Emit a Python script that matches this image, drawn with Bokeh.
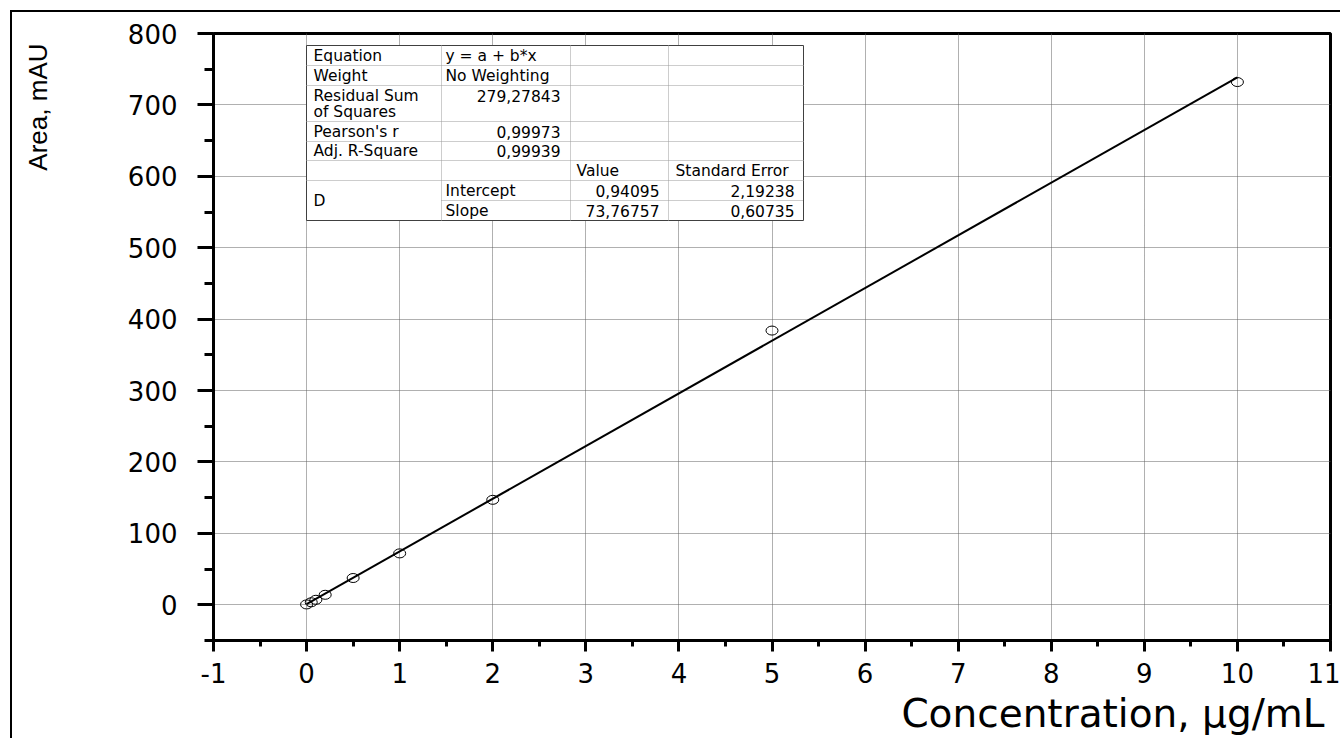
from bokeh.plotting import figure
from bokeh.models import FixedTicker, Range1d, Title
from bokeh.core.properties import value
from bokeh.embed import file_html
from bokeh.resources import INLINE

# ---------------- data ----------------
conc = [0, 0.05, 0.1, 0.2, 0.5, 1, 2, 5, 10]
area = [0.5, 3.5, 7.0, 14.0, 37.5, 72.0, 147.0, 384.0, 732.0]

fit_intercept = 0.94095
fit_slope = 73.76757
fit_x = [0, 10]

x_ticks = [-1, 0, 1, 2, 3, 4, 5, 6, 7, 8, 9, 10, 11]
y_ticks = [0, 100, 200, 300, 400, 500, 600, 700, 800]

table_labels = ["Equation", "Weight", "Residual Sum", "of Squares", "Pearson's r", "Adj. R-Square"]
table_values = ["y = a + b*x", "No Weighting"]
table_numbers = ["279,27843", "0,99973", "0,99939"]
param_header = ["Value", "Standard Error"]
param_names = ["Intercept", "Slope"]
param_values = ["0,94095", "73,76757"]
param_errors = ["2,19238", "0,60735"]
group_name = "D"

x_title = "Concentration, \u03bcg/mL"
y_title = "Area, mAU"

# ---------------- geometry ----------------
X0, X1, Y0, Y1 = -1, 11, -50, 800
FL, FR, FT, FB = 213, 1330, 33, 640   # frame bounds in page pixels


def dx(px):
    return X0 + (px - FL) / (FR - FL) * (X1 - X0)


def dy(py):
    return Y0 + (FB - py) / (FB - FT) * (Y1 - Y0)


p = figure(width=1330, height=728, x_range=Range1d(X0, X1), y_range=Range1d(Y0, Y1),
           output_backend="svg", toolbar_location=None,
           min_border_left=201, min_border_right=12, min_border_top=21, min_border_bottom=100)
p.styles = {"border-left": "2px solid black", "border-top": "2px solid black",
            "margin-left": "10px", "margin-top": "10px"}

p.background_fill_color = "white"
p.border_fill_color = "white"
p.outline_line_color = "black"
p.outline_line_width = 3

p.xaxis.ticker = FixedTicker(ticks=x_ticks, minor_ticks=[t + 0.5 for t in x_ticks[:-1]])
p.yaxis.ticker = FixedTicker(ticks=y_ticks, minor_ticks=[t - 50 for t in y_ticks])
p.xaxis.major_label_overrides = {-1: "-1"}

for ax in (p.xaxis[0], p.yaxis[0]):
    ax.axis_line_width = 3
    ax.axis_line_color = "black"
    ax.major_tick_line_width = 3
    ax.minor_tick_line_width = 3
    ax.major_tick_line_color = "black"
    ax.minor_tick_line_color = "black"
    ax.major_tick_in = 0
    ax.minor_tick_in = 0
    ax.major_label_text_font = "DejaVu Sans"
    ax.major_label_text_font_size = "26px"
    ax.major_label_text_color = "black"

p.xaxis.major_tick_out = 11
p.xaxis.minor_tick_out = 6
p.xaxis.major_label_standoff = 11
p.yaxis.major_tick_out = 16
p.yaxis.minor_tick_out = 9
p.yaxis.major_label_standoff = 20
# blank spacer label: keeps the title clear of the tick labels
p.yaxis.axis_label = " "
p.yaxis.axis_label_text_font_size = "10px"
p.yaxis.axis_label_standoff = 58

p.xgrid.ticker = FixedTicker(ticks=x_ticks)
p.ygrid.ticker = FixedTicker(ticks=y_ticks)
for g in (p.xgrid[0], p.ygrid[0]):
    g.grid_line_color = "#606060"
    g.grid_line_dash = "1 1"
    g.grid_line_width = 1

# fit line and points
fit_y = [fit_intercept + fit_slope * v for v in fit_x]
p.line(fit_x, fit_y, line_color="black", line_width=2)
p.ellipse(x=conc, y=area, width=12, height=9, width_units="screen", height_units="screen",
          fill_alpha=0, line_color="black", line_width=1)

# ---------------- results table ----------------
cols = [306, 441, 570, 668, 803]
rows = [45, 65, 85, 121, 141, 160, 180, 200, 220]

p.quad(left=[dx(cols[0])], right=[dx(cols[-1])], top=[dy(rows[0])], bottom=[dy(rows[-1])],
       fill_color="white", line_color="#404040", line_width=1)

hx0, hx1, hy = [], [], []
for r in rows[1:-1]:
    start = cols[1] if r == 200 else cols[0]
    hx0.append(dx(start)); hx1.append(dx(cols[-1])); hy.append(dy(r))
p.segment(x0=hx0, y0=hy, x1=hx1, y1=hy, line_color="#9a9a9a", line_width=1, line_dash="1 1")
vx = [dx(c) for c in cols[1:-1]]
p.segment(x0=vx, y0=[dy(rows[0])] * len(vx), x1=vx, y1=[dy(rows[-1])] * len(vx),
          line_color="#9a9a9a", line_width=1, line_dash="1 1")

tf = value("DejaVu Sans")
tfs = "15.5px"

c0_y = [55, 75, 95, 111, 131, 150]
p.text(x=[dx(313)] * len(table_labels), y=[dy(v) for v in c0_y], text=table_labels,
       text_font=tf, text_font_size=tfs, text_align="left", text_baseline="middle", text_color="black")
p.text(x=[dx(313)], y=[dy(200)], text=[group_name],
       text_font=tf, text_font_size=tfs, text_align="left", text_baseline="middle", text_color="black")
p.text(x=[dx(445)] * 2, y=[dy(55), dy(75)], text=table_values,
       text_font=tf, text_font_size=tfs, text_align="left", text_baseline="middle", text_color="black")
p.text(x=[dx(445)] * 2, y=[dy(190), dy(210)], text=param_names,
       text_font=tf, text_font_size=tfs, text_align="left", text_baseline="middle", text_color="black")
p.text(x=[dx(560)] * 3, y=[dy(95), dy(131), dy(150)], text=table_numbers,
       text_font=tf, text_font_size=tfs, text_align="right", text_baseline="middle", text_color="black")
p.text(x=[dx(576), dx(675)], y=[dy(170)] * 2, text=param_header,
       text_font=tf, text_font_size=tfs, text_align="left", text_baseline="middle", text_color="black")
p.text(x=[dx(659)] * 2, y=[dy(190), dy(210)], text=param_values,
       text_font=tf, text_font_size=tfs, text_align="right", text_baseline="middle", text_color="black")
p.text(x=[dx(794)] * 2, y=[dy(190), dy(210)], text=param_errors,
       text_font=tf, text_font_size=tfs, text_align="right", text_baseline="middle", text_color="black")

# ---------------- axis titles ----------------
p.add_layout(Title(text=x_title, align="right", offset=6, standoff=6,
                   text_font="DejaVu Sans", text_font_size="39px", text_font_style="normal",
                   text_color="black"), "below")
p.add_layout(Title(text=y_title, align="right", offset=10, standoff=0,
                   text_font="Liberation Sans", text_font_size="26px", text_font_style="normal",
                   text_color="black"), "left")

open("out.html", "w").write(file_html(p, INLINE))
